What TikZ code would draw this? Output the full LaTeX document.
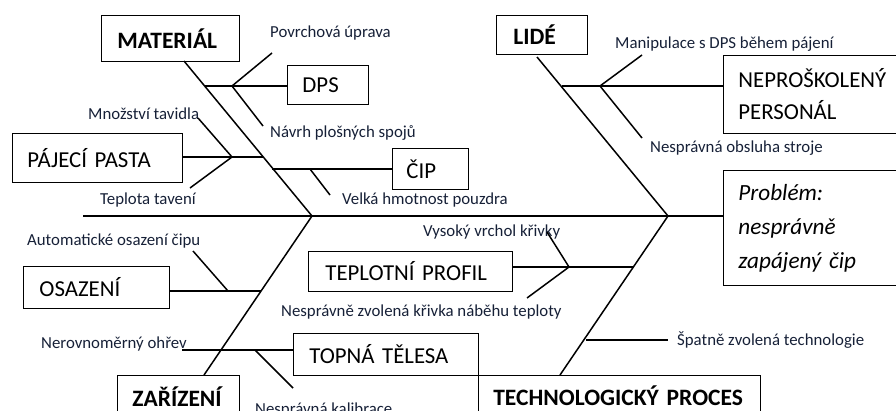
\documentclass[tikz,border=0pt]{standalone}
\usepackage{fontspec}
\setmainfont{Carlito}
\definecolor{lblc}{RGB}{22,32,55}
\begin{document}
\begin{tikzpicture}[x=1pt,y=-1pt,
  ln/.style={line width=1.5pt},
  box/.style={draw, line width=0.9pt, anchor=north west, inner ysep=0pt, align=left, font=\fontsize{22.8}{26}\selectfont},
  bbox/.style={box, font=\fontsize{23.5}{26}\selectfont\bfseries},
  lbl/.style={anchor=west, inner sep=0pt, text=lblc, font=\fontsize{16.8}{19}\selectfont},
]
\useasboundingbox (0,0) rectangle (896,410);
\clip (0,0) rectangle (896,410);

% boxes
\node[bbox, minimum height=46pt, inner xsep=16pt, text width=106pt] (mat) at (101,15) {MATERIÁL};
\node[box, minimum height=39pt, inner xsep=15pt, text width=51pt] (dps) at (287,65) {DPS};
\node[box, minimum height=49pt, inner xsep=15pt, text width=140pt] (pasta) at (12,133) {PÁJECÍ PASTA};
\node[box, minimum height=41pt, inner xsep=14pt, text width=48pt] (cip) at (392,148) {ČIP};
\node[bbox, minimum height=39pt, inner xsep=17pt, text width=57pt] (lide) at (496,15) {LIDÉ};
\node[box, minimum height=78pt, inner xsep=15pt, text width=170pt, font=\fontsize{22.8}{32}\selectfont] (nep) at (723,55) {NEPROŠKOLENÝ\\PERSONÁL};
\node[box, minimum height=115pt, inner xsep=15pt, text width=170pt, font=\fontsize{23.2}{34}\selectfont\itshape] (prob) at (723,170) {Problém:\\nesprávně\\zapájený čip};
\node[box, minimum height=40pt, inner xsep=17pt, text width=170pt] (tep) at (308,251) {TEPLOTNÍ PROFIL};
\node[box, minimum height=42pt, inner xsep=16pt, text width=114pt] (osa) at (23,266) {OSAZENÍ};
\node[box, minimum height=42pt, inner xsep=16pt, text width=153pt, line width=0.7pt] (top) at (293,333) {TOPNÁ TĚLESA};
\node[bbox, minimum height=42pt, inner xsep=15pt, text width=92pt] (zar) at (117,375) {ZAŘÍZENÍ};
\node[bbox, minimum height=40pt, inner xsep=15pt, text width=252pt, line width=0.7pt] (tech) at (478,375) {TECHNOLOGICKÝ PROCES};

% labels
\node[lbl] (l1) at (270,33) {Povrchová úprava};
\node[lbl] (l2) at (270,133) {Návrh plošných spojů};
\node[lbl] (l3) at (88,114) {Množství tavidla};
\node[lbl] (l4) at (100,200) {Teplota tavení};
\node[lbl] (l5) at (342,200) {Velká hmotnost pouzdra};
\node[lbl] (l6) at (615,44) {Manipulace s DPS během pájení};
\node[lbl] (l7) at (650,148) {Nesprávná obsluha stroje};
\node[lbl] (l8) at (27,241) {Automatické osazení čipu};
\node[lbl] (l9) at (423,232) {Vysoký vrchol křivky};
\node[lbl] (l10) at (281,312) {Nesprávně zvolená křivka náběhu teploty};
\node[lbl] (l11) at (41,344) {Nerovnoměrný ohřev};
\node[lbl] (l12) at (255,410) {Nesprávná kalibrace};
\node[lbl] (l13) at (677,340) {Špatně zvolená technologie};

% coordinates
\coordinate (tail) at (83,216);
\coordinate (head) at (668,216);
\coordinate (jm) at (312,216);
\coordinate (ms) at (184,61);
\coordinate (ls) at (537,57);
\coordinate (zs) at (204,375);
\coordinate (ts) at (560,375);

% main spine
\draw[ln] (tail) -- (head) -- (head -| prob.west);
% category spines
\draw[ln] (ms) -- (jm);
\draw[ln] (ls) -- (head);
\draw[ln] (jm) -- (zs);
\draw[ln] (head) -- (ts);

% material
\coordinate (a1) at (205,86); \coordinate (a2) at (232,86);
\draw[ln] (a1) -- (a2) -- (dps.west |- a2);
\draw[ln] (a2) -- (272,53);
\draw[ln] (a2) -- (263,126);
\coordinate (b1) at (263,157); \coordinate (b2) at (232,157);
\draw[ln] (pasta.east |- b2) -- (b1);
\draw[ln] (198,118) -- (b2) -- (190,188);
\coordinate (c1) at (272,169); \coordinate (c2) at (310,169);
\draw[ln] (c1) -- (cip.west |- c1);
\draw[ln] (c2) -- (330,195);

% lide
\coordinate (d1) at (562,86); \coordinate (d2) at (600,86);
\draw[ln] (d1) -- (nep.west |- d1);
\draw[ln] (d2) -- (642,55);
\draw[ln] (d2) -- (642,138);

% zarizeni
\coordinate (e1) at (261,291); \coordinate (e2) at (228,291);
\draw[ln] (osa.east |- e1) -- (e1);
\draw[ln] (193,251) -- (e2);
\coordinate (f1) at (182,350); \coordinate (f2) at (255,350);
\draw[ln] (f1) -- (top.west |- f1);
\draw[ln] (f2) -- (293,388);

% technologicky proces
\coordinate (g1) at (633,267); \coordinate (g2) at (569,267);
\draw[ln] (tep.east |- g1) -- (g1);
\draw[ln] (547,232) -- (g2) -- (527,298);
\coordinate (h1) at (586,340); \coordinate (h2) at (668,340);
\draw[ln] (h1) -- (h2);
\end{tikzpicture}
\end{document}
